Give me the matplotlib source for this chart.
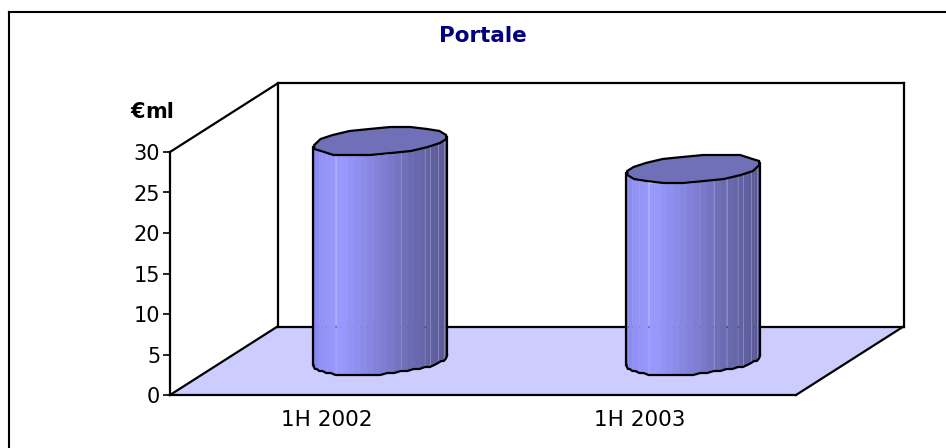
import numpy as np
import matplotlib
matplotlib.use('Agg')
import matplotlib.pyplot as plt
from matplotlib.lines import Line2D
from matplotlib.patches import Polygon

plt.rcParams['font.family'] = ['DejaVu Sans']

categories = ['1H 2002', '1H 2003']
values = [27.1, 23.7]
yticks = [0, 5, 10, 15, 20, 25, 30]

W, H = 946, 448
# 3d look: depth shift and cylinder shape, in data units
DX = 107.5 / 313
DY = 68.5 / 8.1
HALF_W = 66 / 313
TILT_Y = 2.9 / 8.1
MINOR_X = 10 / 313
MINOR_Y = 14 / 8.1
# angle where the rim reaches its left/right extreme (pixel ratio, not data ratio)
T0 = np.arctan(10 / 66)

fig = plt.figure(figsize=(W / 100, H / 100), dpi=100)
ax = fig.add_axes([170 / W, 1 - 395 / H, 626 / W, 243 / H])
ax.set_xlim(0, 2)
ax.set_ylim(0, 30)
ax.patch.set_visible(False)
for s in ax.spines.values():
    s.set_visible(False)

LW = 1.6

# floor and walls
ax.add_patch(Polygon([(0, 0), (DX, DY), (2 + DX, DY), (2, 0)], closed=True, fc='#ccccff',
                     ec='none', clip_on=False, zorder=1))
for xs, ys in [((0, 0), (0, 30)), ((0, 2), (0, 0)), ((0, DX), (0, DY)), ((2, 2 + DX), (0, DY)),
               ((DX, 2 + DX), (DY, DY)), ((0, DX), (30, 30 + DY)), ((DX, DX), (DY, 30 + DY)),
               ((2 + DX, 2 + DX), (DY, 30 + DY)), ((DX, 2 + DX), (30 + DY, 30 + DY))]:
    ax.plot(xs, ys, color='black', lw=LW, clip_on=False, zorder=2, solid_capstyle='projecting')


def rim(cx, cy, t):
    x = cx + HALF_W * np.cos(t) + MINOR_X * np.sin(t)
    y = cy + TILT_Y * np.cos(t) + MINOR_Y * np.sin(t)
    # snap to a coarse grid, gives the rough outline of the old renderer
    y = np.round(y * 8.1 / 2) * 2 / 8.1
    return x, y


def shade(f):
    stops = [0, 0.04, 0.2, 0.5, 0.72, 0.86, 1]
    r = np.interp(f, stops, [0x80, 0x90, 0x99, 0x80, 0x6c, 0x63, 0x58])
    b = np.interp(f, stops, [0xe8, 0xf5, 0xff, 0xd6, 0xb4, 0xa4, 0x92])
    return (r / 255, r / 255, b / 255)


for i, v in enumerate(values):
    cx = i + 0.5 + DX / 2
    base = DY / 2
    top = base + v
    ts = np.linspace(np.pi + T0, 2 * np.pi + T0, 31)
    xb, yb = rim(cx, base, ts)
    xt, yt = rim(cx, top, ts)
    for k in range(30):
        f = (xb[k] + xb[k + 1]) / 2
        f = (f - (cx - HALF_W)) / (2 * HALF_W)
        ax.fill([xb[k], xb[k + 1], xt[k + 1], xt[k]], [yb[k], yb[k + 1], yt[k + 1], yt[k]],
                color=shade(f), lw=0.4, clip_on=False, zorder=3)
    # faint lighter facet edges
    for k in [18, 23, 25, 27]:
        ax.plot([xb[k], xt[k]], [yb[k], yt[k]], color='#8f8fc4', lw=0.6, zorder=3.1, clip_on=False)
    ax.plot(xb, yb, color='black', lw=LW, zorder=4, clip_on=False)
    ax.plot([xb[0], xt[0]], [yb[0], yt[0]], color='black', lw=LW, zorder=4, clip_on=False)
    ax.plot([xb[-1], xt[-1]], [yb[-1], yt[-1]], color='black', lw=LW, zorder=4, clip_on=False)
    tc = np.linspace(0, 2 * np.pi, 21)
    xc, yc = rim(cx, top, tc)
    ax.fill(xc, yc, fc='#7070b8', ec='black', lw=LW, zorder=5, clip_on=False)

ax.set_yticks(yticks)
ax.set_xticks([0.5, 1.5])
ax.set_xticklabels(categories)
ax.tick_params(axis='y', length=5, width=1.2, pad=2, labelsize=15, color='black')
ax.tick_params(axis='x', length=0, pad=11, labelsize=15.5)

fig.text(483 / W, 1 - 36 / H, 'Portale', color='#000080', fontsize=15.5, fontweight='bold',
         ha='center', va='center')
fig.text(130 / W, 1 - 112 / H, '€', fontsize=15, fontweight='bold', ha='left', va='center')
fig.text(145 / W, 1 - 112 / H, 'ml', fontsize=15, fontweight='bold', ha='left', va='center')

# outer chart border
for xs, ys in [((9, 9), (12, 448)), ((9, 946), (12, 12))]:
    fig.add_artist(Line2D([x / W for x in xs], [1 - y / H for y in ys], color='black', lw=1.5))

fig.savefig('out.png', dpi=100)
